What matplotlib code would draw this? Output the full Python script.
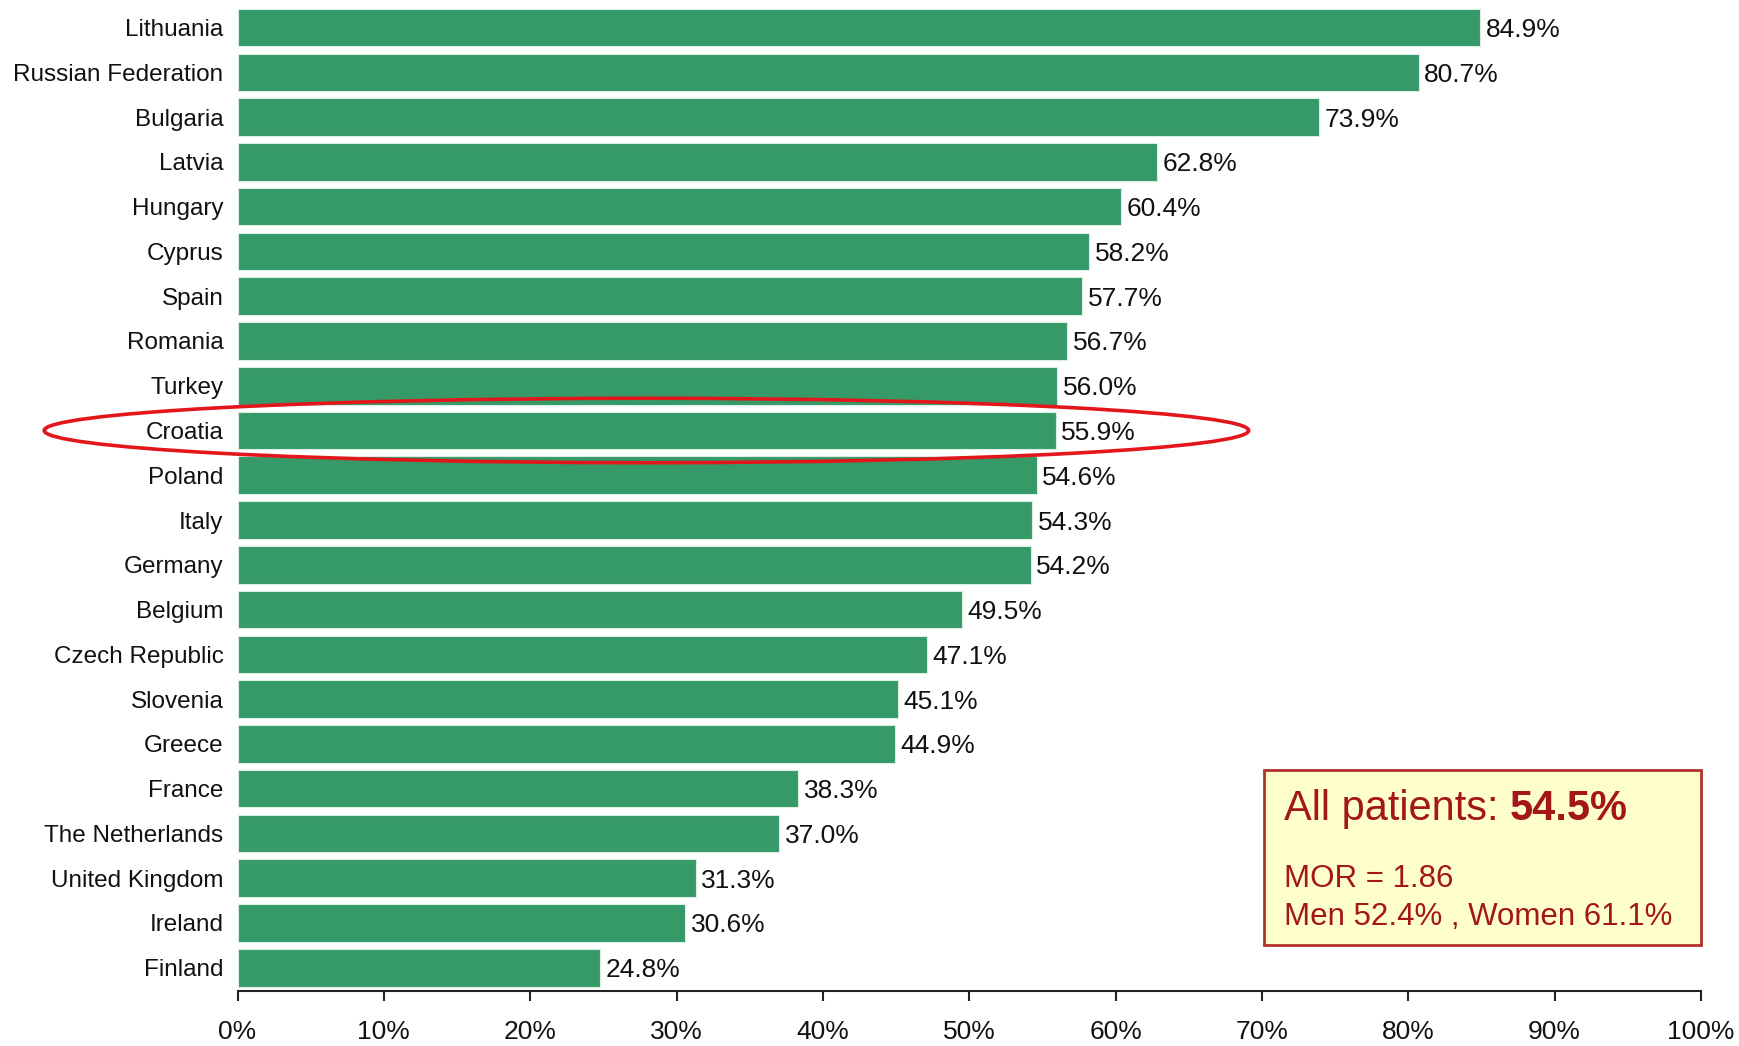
import numpy as np
import matplotlib
matplotlib.use('Agg')
from matplotlib import pyplot as plt
from matplotlib import font_manager
from matplotlib.patches import Ellipse, Rectangle
from matplotlib.text import Annotation

countries = ['Lithuania', 'Russian Federation', 'Bulgaria', 'Latvia', 'Hungary',
             'Cyprus', 'Spain', 'Romania', 'Turkey', 'Croatia', 'Poland', 'Italy',
             'Germany', 'Belgium', 'Czech Republic', 'Slovenia', 'Greece', 'France',
             'The Netherlands', 'United Kingdom', 'Ireland', 'Finland']
values = [84.9, 80.7, 73.9, 62.8, 60.4, 58.2, 57.7, 56.7, 56.0, 55.9, 54.6, 54.3,
          54.2, 49.5, 47.1, 45.1, 44.9, 38.3, 37.0, 31.3, 30.6, 24.8]
xticks = [0, 10, 20, 30, 40, 50, 60, 70, 80, 90, 100]
highlight = 'Croatia'

all_patients = 54.5
mor = 1.86
men = 52.4
women = 61.1

# narrow font for the axis text if it is there
names = set(f.name for f in font_manager.fontManager.ttflist)
if 'Liberation Sans Narrow' in names:
    narrow = 'Liberation Sans Narrow'
    lab_size = 21
    val_size = 22
    tick_size = 23
else:
    narrow = 'Liberation Sans'
    lab_size = 17.5
    val_size = 19
    tick_size = 19
plt.rcParams['font.family'] = 'Liberation Sans'

green = '#359968'
red_txt = '#a3161a'

fig = plt.figure(figsize=(17.4, 10.46), dpi=100)
ax = fig.add_axes([0.1365, 0.0526, 0.8411, 0.9433])

y = np.arange(len(countries))
bars = ax.barh(y, values, height=0.84, color=green, edgecolor='#d8eee0', linewidth=0.8)
ax.set_ylim(len(countries) - 0.48, -0.52)
ax.set_xlim(0, 100)

for yi, v in zip(y, values):
    ax.annotate('%.1f%%' % v, xy=(v, yi), xytext=(4, 0), textcoords='offset points',
                va='center_baseline', ha='left', fontsize=val_size, family=narrow,
                color='#111111')

ax.set_yticks(y)
ax.set_yticklabels(countries, family=narrow, fontsize=lab_size, color='#111111')
ax.tick_params(axis='y', length=0, pad=10)
ax.set_xticks(xticks)
ax.set_xticklabels(['%d%%' % t for t in xticks], family=narrow, fontsize=tick_size, color='#111111')
ax.tick_params(axis='x', length=7, width=1.5, pad=14, color='#222222')

for s in ['top', 'right', 'left']:
    ax.spines[s].set_visible(False)
ax.spines['bottom'].set_linewidth(1.5)
ax.spines['bottom'].set_color('#222222')

# red ring around the highlighted country
ci = countries.index(highlight)
ax.add_patch(Ellipse((27.94, ci), width=82.3, height=1.44, fill=False,
                     edgecolor='#e3161c', linewidth=2.6, clip_on=False, zorder=5))

# summary box
fig.patches.append(Rectangle((1264 / 1740, 1 - 945 / 1046), 437 / 1740, 175 / 1046,
                             transform=fig.transFigure, facecolor='#ffffcc',
                             edgecolor='#b2302c', linewidth=2, zorder=3))
t = fig.text(1284 / 1740, 1 - 809 / 1046, 'All patients: ', fontsize=30, color=red_txt,
             va='center', ha='left', zorder=4)
fig.add_artist(Annotation('%.1f%%' % all_patients, xy=(1, 0), xycoords=t,
                          va='bottom', ha='left', fontsize=30, fontweight='bold',
                          color=red_txt, zorder=4))
fig.text(1284 / 1740, 1 - 879 / 1046, 'MOR = %.2f' % mor, fontsize=22.5, color=red_txt,
         va='center', ha='left', zorder=4)
fig.text(1284 / 1740, 1 - 917 / 1046, 'Men %.1f%% , Women %.1f%%' % (men, women),
         fontsize=22.5, color=red_txt, va='center', ha='left', zorder=4)

plt.savefig('out.png', dpi=100)
